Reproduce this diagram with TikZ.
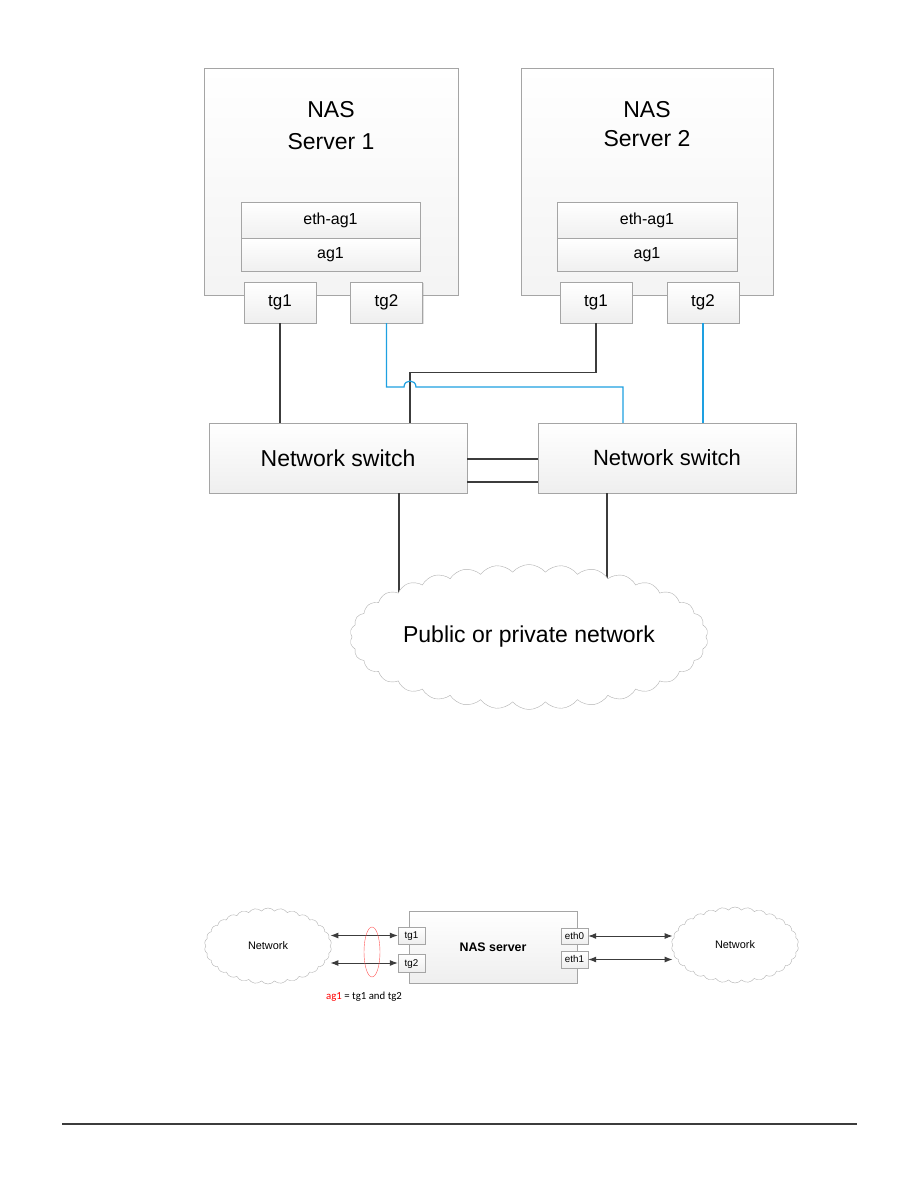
\documentclass[tikz,border=0pt]{standalone}
\usepackage{fontspec}
\setmainfont{Liberation Sans}
\newfontfamily\carlito{Carlito}
\usepackage{tikz}
\usetikzlibrary{arrows.meta, calc, positioning, shapes.geometric, shapes.symbols, shadows}
\usepackage{xcolor}
\definecolor{linkblue}{RGB}{30,160,225}
\definecolor{wiregray}{RGB}{60,60,60}
\definecolor{edgegray}{RGB}{165,165,165}

\begin{document}
\begin{tikzpicture}[x=1pt, y=-1pt,
    box/.style={draw=edgegray, top color=white, bottom color=gray!13, inner sep=0pt,
        drop shadow={shadow xshift=1.2pt, shadow yshift=-1.2pt, opacity=0.3, fill=black!40}},
    srv/.style={box, bottom color=gray!9, minimum height=227pt},
    agbox/.style={draw=edgegray, top color=white, bottom color=gray!12, inner sep=0pt,
        minimum width=179pt, font=\fontsize{16}{19}\selectfont},
    port/.style={box, minimum width=72pt, minimum height=41pt, font=\fontsize{17}{20}\selectfont},
    switchbox/.style={box, minimum width=258pt, minimum height=70pt},
    smallport/.style={box, minimum width=27pt, text height=7pt, text depth=1pt,
        font=\fontsize{9.8}{11}\selectfont},
    netcloud/.style={cloud, cloud ignores aspect, cloud puffs=30, cloud puff arc=100,
        draw=gray!60, fill=white, inner sep=0pt},
    wire/.style={draw=wiregray, line width=1.2pt},
    bluewire/.style={draw=linkblue, line width=1.2pt},
    biarrow/.style={draw=wiregray, line width=1pt, {Latex[length=8pt,width=6pt]}-{Latex[length=8pt,width=6pt]}},
]
    \fill[white] (0,0) rectangle (918,1188);
    \useasboundingbox (0,0) rectangle (918,1188);

    % 服务器
    \node[srv, minimum width=254pt] (srv1) at (331,181.5) {};
    \node[srv, minimum width=252pt] (srv2) at (647,181.5) {};
    \node[font=\fontsize{23}{32}\selectfont, align=center] (lbl1) at (331,126) {NAS\\Server 1};
    \node[font=\fontsize{23}{29}\selectfont, align=center] (lbl2) at (647,124) {NAS\\Server 2};

    % eth-ag1 / ag1
    \node[agbox, minimum height=36pt] (eth1) at (330.5,220) {eth-ag1};
    \node[agbox, minimum height=33pt] (ag1) at (330.5,254.5) {ag1};
    \node[agbox, minimum width=180pt, minimum height=36pt] (eth2) at (647,220) {eth-ag1};
    \node[agbox, minimum width=180pt, minimum height=33pt] (ag2) at (647,254.5) {ag1};

    % 端口
    \node[port] (s1tg1) at (280,302.5) {tg1};
    \node[port] (s1tg2) at (386.5,302.5) {tg2};
    \node[port] (s2tg1) at (596,302.5) {tg1};
    \node[port] (s2tg2) at (703,302.5) {tg2};

    % 交换机
    \node[switchbox, font=\fontsize{23}{26}\selectfont] (sw1) at (338,458) {Network switch};
    \node[switchbox, font=\fontsize{22}{26}\selectfont] (sw2) at (667,458) {Network switch};

    % 连线
    \draw[wire] (s1tg1.south) -- (s1tg1.south |- sw1.north);
    \draw[wire] (s2tg1.south) -- ++(0,49) -| ([xshift=72pt]sw1.north);
    \coordinate (hopa) at (404,387);
    \coordinate (hopb) at (416,387);
    \draw[bluewire] (s1tg2.south) |- (hopa) .. controls (404,379) and (416,379) .. (hopb)
        -| ([xshift=-44pt]sw2.north);
    \draw[bluewire] (s2tg2.south) -- (s2tg2.south |- sw2.north);
    \draw[wire] ([yshift=-1pt]sw1.east) -- ([yshift=-1pt]sw2.west);
    \draw[wire] ([yshift=-24pt]sw1.east) -- ([yshift=-24pt]sw2.west);
    \draw[wire] ([xshift=61pt]sw1.south) -- ++(0,110);
    \draw[wire] ([xshift=-60pt]sw2.south) -- ++(0,110);

    % 网络
    \node[netcloud, cloud puffs=34, minimum width=358pt, minimum height=145pt,
        font=\fontsize{23}{26}\selectfont] (pub) at (529,637) {Public or private network};

    % 下图
    \node[box, minimum width=168pt, minimum height=72pt,
        font=\bfseries\fontsize{12.4}{14}\selectfont] (nas) at (493,947) {NAS server};
    \node[smallport, minimum height=17pt] (t1) at (411.5,935.5) {tg1};
    \node[smallport, minimum height=18pt] (t2) at (411.5,963) {tg2};
    \node[smallport, minimum height=16pt] (e0) at (574.5,936) {eth0};
    \node[smallport, minimum height=17pt] (e1) at (574.5,959.5) {eth1};
    \node[netcloud, minimum width=127pt, minimum height=76pt,
        font=\fontsize{10.9}{13}\selectfont] (lnet) at (268,946) {Network};
    \node[netcloud, minimum width=127pt, minimum height=76pt,
        font=\fontsize{10.9}{13}\selectfont] (rnet) at (735,945) {Network};
    \draw[biarrow] (t1.west -| lnet.east) -- (t1.west);
    \draw[biarrow] (t2.west -| lnet.east) -- (t2.west);
    \draw[biarrow] (e0.east) -- (e0.east -| rnet.west);
    \draw[biarrow] (e1.east) -- (e1.east -| rnet.west);
    \node[ellipse, draw=red!65, thin, minimum width=16pt, minimum height=50pt, inner sep=0pt] (agring) at (372,952) {};
    \node[anchor=west, inner sep=0pt, font=\carlito\fontsize{10.8}{13}\selectfont] (agnote) at (326,997)
        {\textcolor{red}{ag1} = tg1 and tg2};

    % 页脚线
    \draw[wiregray, line width=1.5pt] (62,1124) -- (857,1124);
\end{tikzpicture}
\end{document}
